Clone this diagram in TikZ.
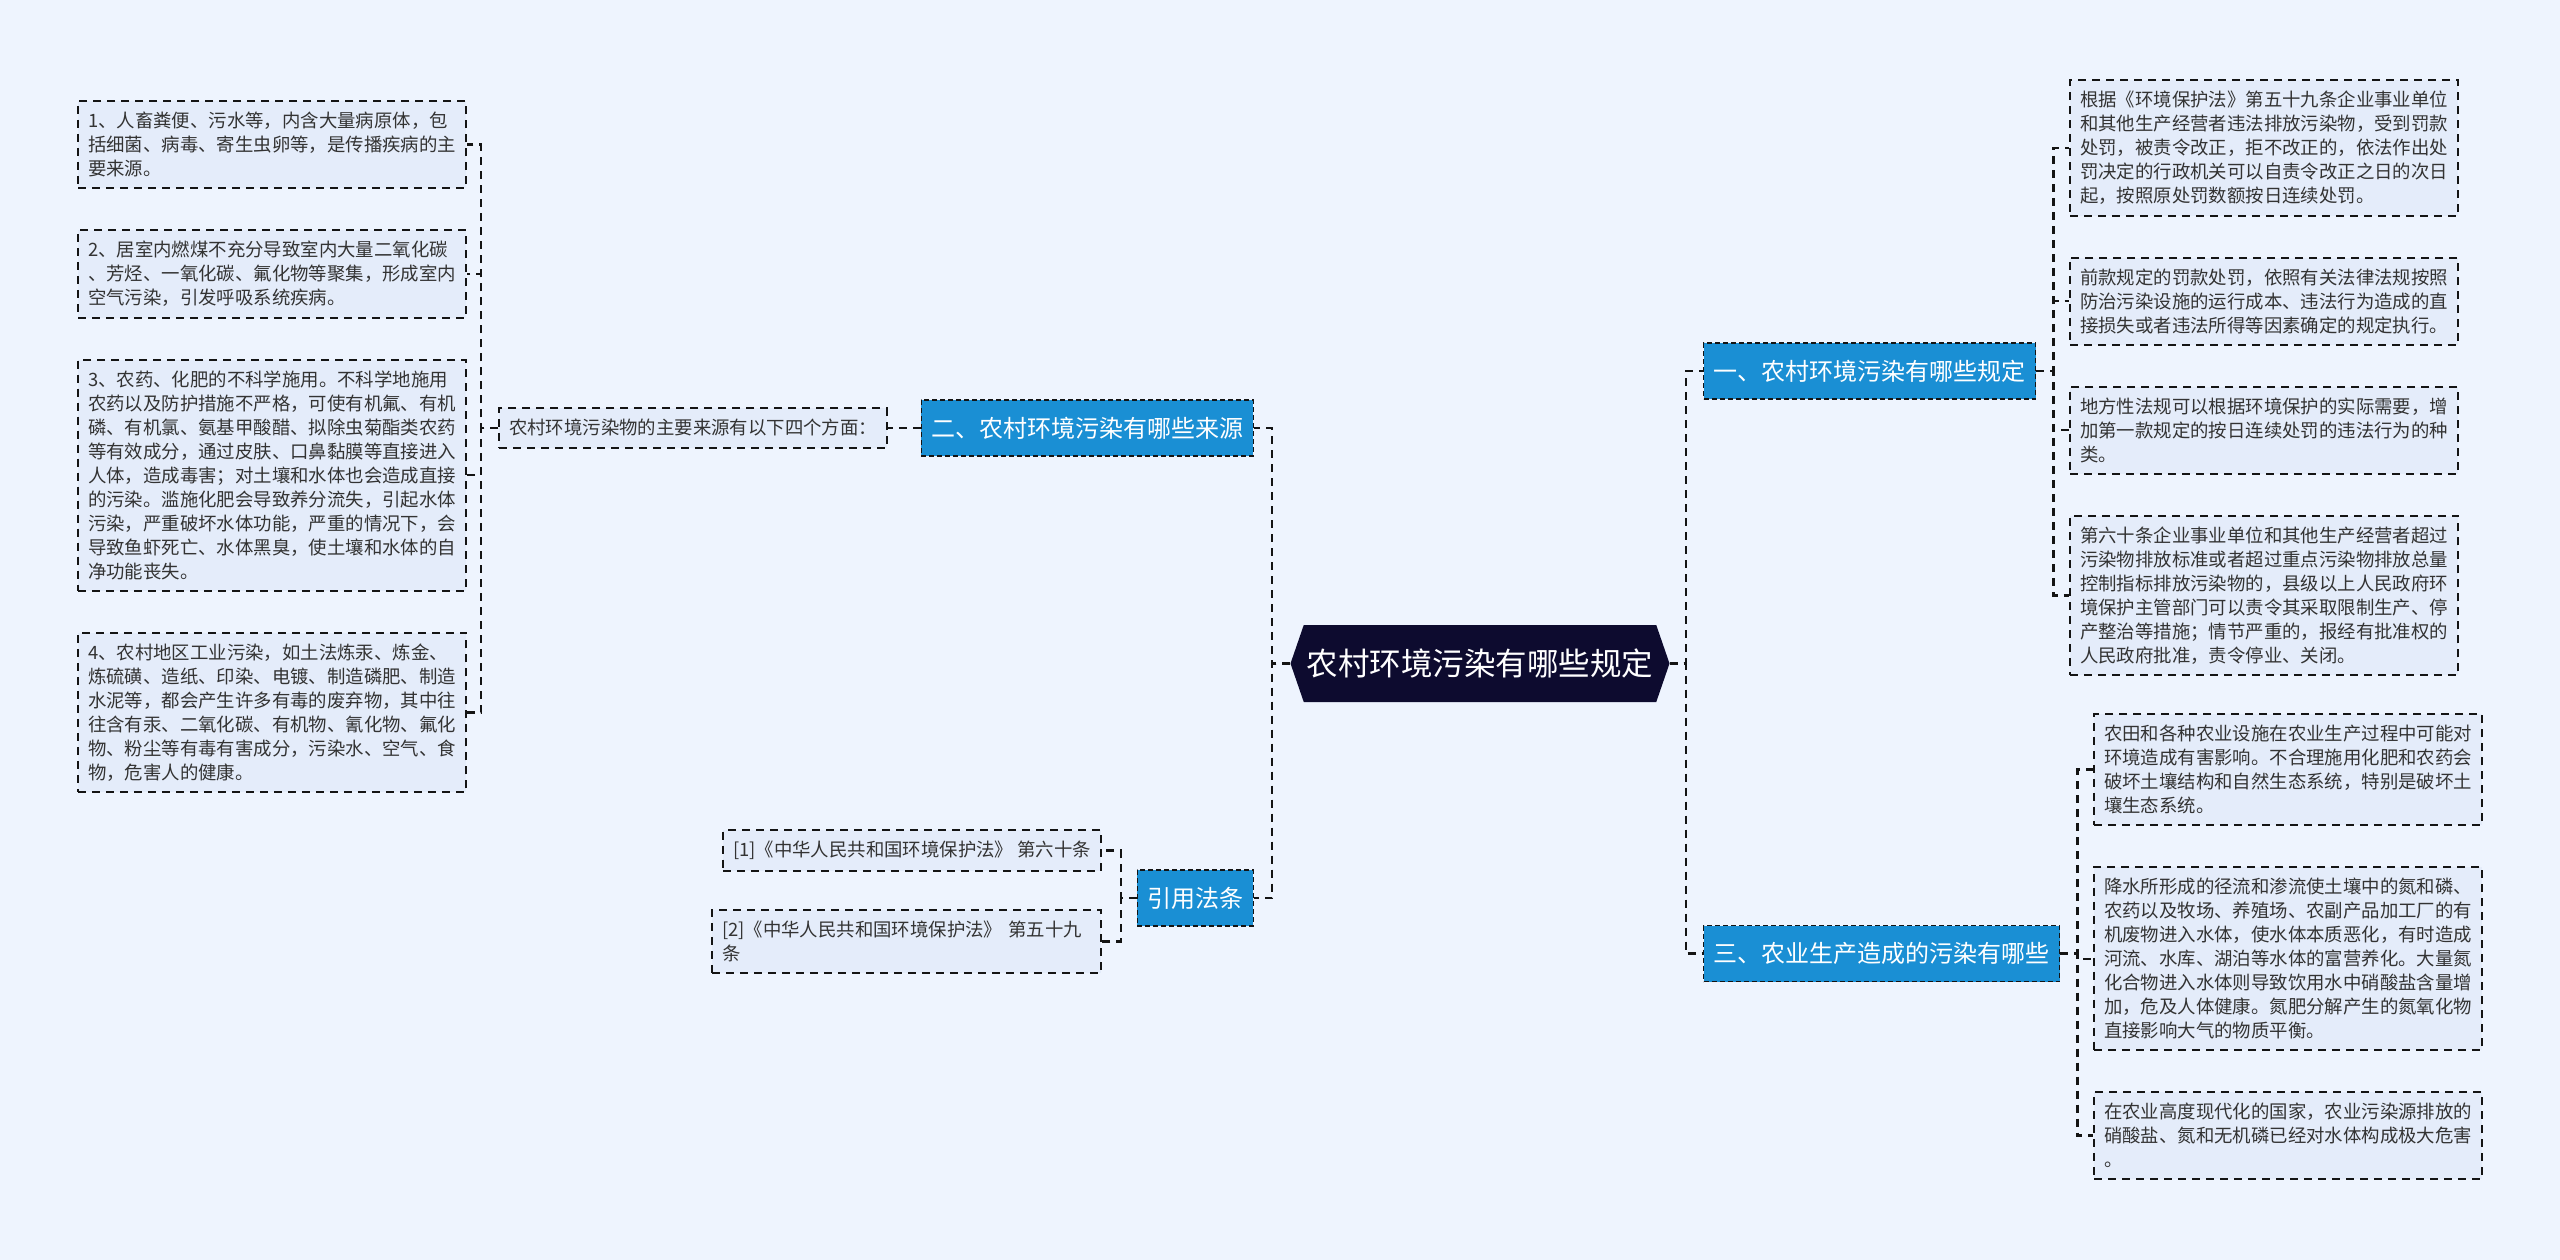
\documentclass[tikz,border=0pt]{standalone}
\usepackage{fontspec}
\setmainfont{Noto Sans CJK SC}
\usepackage{tikz}
\usetikzlibrary{positioning, shapes.symbols, backgrounds}

\definecolor{pagebg}{HTML}{EEF4FE}
\definecolor{leafbg}{HTML}{E4ECFA}
\definecolor{topicblue}{HTML}{1A8FD4}
\definecolor{rootnavy}{HTML}{0D0B2F}
\definecolor{linkgray}{HTML}{141414}
\definecolor{leaftext}{HTML}{333333}

\begin{document}
\begin{tikzpicture}[x=1pt, y=1pt, node distance=40pt,
  link/.style={draw=linkgray, line width=2.2pt, dash pattern=on 8pt off 6pt},
  rootbox/.style={signal, signal to=east and west, signal pointer angle=142,
    fill=rootnavy, text=white, minimum width=379pt, minimum height=77pt,
    inner xsep=0pt, font=\fontsize{31.5}{36}\selectfont},
  topic/.style={fill=topicblue, draw=linkgray, line width=1.4pt,
    dash pattern=on 5pt off 3pt, text=white, minimum height=56pt,
    inner xsep=10pt, font=\fontsize{24}{28}\selectfont},
  leaf/.style={fill=leafbg, draw=linkgray, line width=2pt,
    dash pattern=on 8pt off 6pt, text=leaftext, inner xsep=10pt,
    inner ysep=11pt, align=left, font=\fontsize{18.4}{24}\selectfont},
  wide/.style={leaf, text width=368pt}]
  % Page background
  \fill[pagebg] (0,0) rectangle (2560,-1260);

  % Central topic and main branches
  \node[rootbox] (root) at (1480,-663.5) {农村环境污染有哪些规定};
  \node[topic, anchor=west] (rules) at (1703,-371) {一、农村环境污染有哪些规定};
  \node[topic, anchor=east] (sources) at (1254,-428) {二、农村环境污染有哪些来源};
  \node[topic, anchor=west] (farming) at (1703,-953.5) {三、农业生产造成的污染有哪些};
  \node[topic, anchor=east] (cites) at (1254,-898) {引用法条};

  % Sources of pollution
  \node[leaf, anchor=east] (intro) at (888,-428) {农村环境污染物的主要来源有以下四个方面：};
  \node[wide, anchor=north east] (src1) at (467,-100)
    {1、人畜粪便、污水等，内含大量病原体，包\\括细菌、病毒、寄生虫卵等，是传播疾病的主\\要来源。};
  \node[wide, below=of src1] (src2)
    {2、居室内燃煤不充分导致室内大量二氧化碳\\、芳烃、一氧化碳、氟化物等聚集，形成室内\\空气污染，引发呼吸系统疾病。};
  \node[wide, below=of src2] (src3)
    {3、农药、化肥的不科学施用。不科学地施用\\农药以及防护措施不严格，可使有机氟、有机\\磷、有机氯、氨基甲酸醋、拟除虫菊酯类农药\\等有效成分，通过皮肤、口鼻黏膜等直接进入\\人体，造成毒害；对土壤和水体也会造成直接\\的污染。滥施化肥会导致养分流失，引起水体\\污染，严重破坏水体功能，严重的情况下，会\\导致鱼虾死亡、水体黑臭，使土壤和水体的自\\净功能丧失。};
  \node[wide, below=of src3] (src4)
    {4、农村地区工业污染，如土法炼汞、炼金、\\炼硫磺、造纸、印染、电镀、制造磷肥、制造\\水泥等，都会产生许多有毒的废弃物，其中往\\往含有汞、二氧化碳、有机物、氰化物、氟化\\物、粉尘等有毒有害成分，污染水、空气、食\\物，危害人的健康。};

  % Cited articles
  \node[leaf, anchor=east] (cite1) at (1102,-850.5) {[1]《中华人民共和国环境保护法》 第六十条};
  \node[leaf, text width=369pt, anchor=north east] (cite2) at (1102,-909)
    {[2]《中华人民共和国环境保护法》 第五十九\\条};

  % Regulations
  \node[wide, anchor=north west] (law1) at (2069,-79)
    {根据《环境保护法》第五十九条企业事业单位\\和其他生产经营者违法排放污染物，受到罚款\\处罚，被责令改正，拒不改正的，依法作出处\\罚决定的行政机关可以自责令改正之日的次日\\起，按照原处罚数额按日连续处罚。};
  \node[wide, below=of law1] (law2)
    {前款规定的罚款处罚，依照有关法律法规按照\\防治污染设施的运行成本、违法行为造成的直\\接损失或者违法所得等因素确定的规定执行。};
  \node[wide, below=of law2] (law3)
    {地方性法规可以根据环境保护的实际需要，增\\加第一款规定的按日连续处罚的违法行为的种\\类。};
  \node[wide, below=of law3] (law4)
    {第六十条企业事业单位和其他生产经营者超过\\污染物排放标准或者超过重点污染物排放总量\\控制指标排放污染物的，县级以上人民政府环\\境保护主管部门可以责令其采取限制生产、停\\产整治等措施；情节严重的，报经有批准权的\\人民政府批准，责令停业、关闭。};

  % Agricultural pollution
  \node[wide, anchor=north west] (farm1) at (2093,-713)
    {农田和各种农业设施在农业生产过程中可能对\\环境造成有害影响。不合理施用化肥和农药会\\破坏土壤结构和自然生态系统，特别是破坏土\\壤生态系统。};
  \node[wide, below=of farm1] (farm2)
    {降水所形成的径流和渗流使土壤中的氮和磷、\\农药以及牧场、养殖场、农副产品加工厂的有\\机废物进入水体，使水体本质恶化，有时造成\\河流、水库、湖泊等水体的富营养化。大量氮\\化合物进入水体则导致饮用水中硝酸盐含量增\\加，危及人体健康。氮肥分解产生的氮氧化物\\直接影响大气的物质平衡。};
  \node[wide, below=of farm2] (farm3)
    {在农业高度现代化的国家，农业污染源排放的\\硝酸盐、氮和无机磷已经对水体构成极大危害\\。};

  % Connectors
  \draw[link] (root.east) -- ++(16,0) |- (rules.west);
  \draw[link] (root.east) -- ++(16,0) |- (farming.west);
  \draw[link] (root.west) -- ++(-18,0) |- (sources.east);
  \draw[link] (root.west) -- ++(-18,0) |- (cites.east);
  \draw[link] (sources.west) -- (intro.east);
  \draw[link] (intro.west) -- ++(-17,0) |- (src1.east);
  \draw[link] (intro.west) -- ++(-17,0) |- (src2.east);
  \draw[link] (intro.west) -- ++(-17,0) |- (src3.east);
  \draw[link] (intro.west) -- ++(-17,0) |- (src4.east);
  \draw[link] (cites.west) -- ++(-16,0) |- (cite1.east);
  \draw[link] (cites.west) -- ++(-16,0) |- (cite2.east);
  \draw[link] (rules.east) -- ++(17,0) |- (law1.west);
  \draw[link] (rules.east) -- ++(17,0) |- (law2.west);
  \draw[link] (rules.east) -- ++(17,0) |- (law3.west);
  \draw[link] (rules.east) -- ++(17,0) |- (law4.west);
  \draw[link] (farming.east) -- ++(17,0) |- (farm1.west);
  \draw[link] (farming.east) -- ++(17,0) |- (farm2.west);
  \draw[link] (farming.east) -- ++(17,0) |- (farm3.west);
\end{tikzpicture}
\end{document}
